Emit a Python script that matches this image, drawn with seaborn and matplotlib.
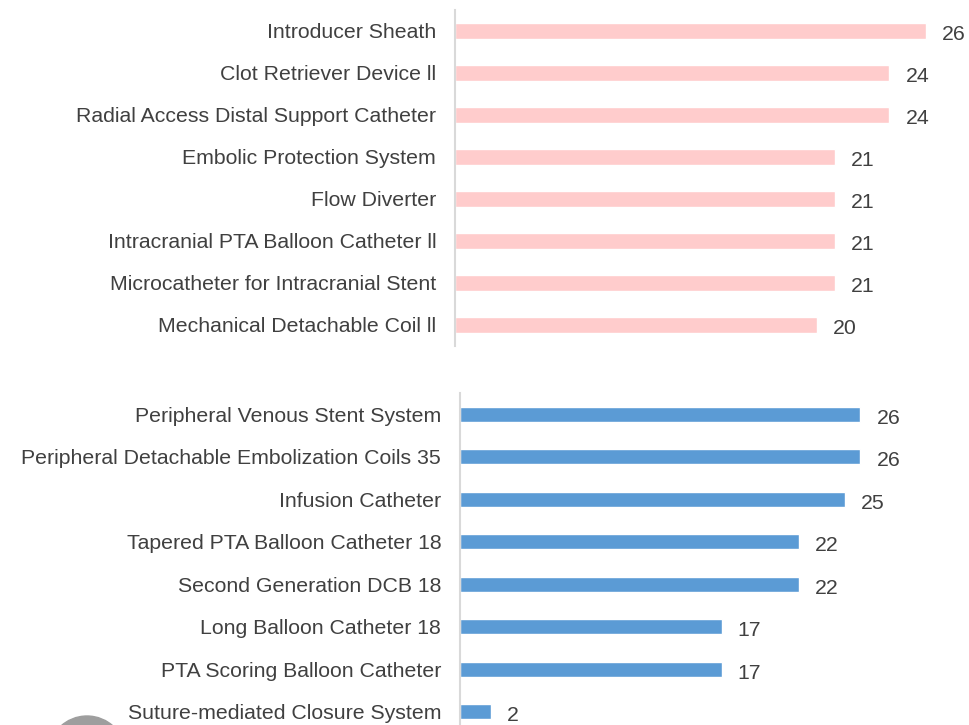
import numpy as np
import pandas as pd
import matplotlib
matplotlib.use('Agg')
import matplotlib.pyplot as plt
import seaborn as sns
from matplotlib.patches import Circle

# --- data ---
top_labels = ['Introducer Sheath', 'Clot Retriever Device ll',
              'Radial Access Distal Support Catheter', 'Embolic Protection System',
              'Flow Diverter', 'Intracranial PTA Balloon Catheter ll',
              'Microcatheter for Intracranial Stent', 'Mechanical Detachable Coil ll']
top_values = [26, 24, 24, 21, 21, 21, 21, 20]

bottom_labels = ['Peripheral Venous Stent System', 'Peripheral Detachable Embolization Coils 35',
                 'Infusion Catheter', 'Tapered PTA Balloon Catheter 18',
                 'Second Generation DCB 18', 'Long Balloon Catheter 18',
                 'PTA Scoring Balloon Catheter', 'Suture-mediated Closure System']
bottom_values = [26, 26, 25, 22, 22, 17, 17, 2]

sns.set_style('white')
plt.rcParams['font.family'] = ['Liberation Sans', 'DejaVu Sans']

W, H = 970, 725
fig = plt.figure(figsize=(W / 100, H / 100), dpi=100)
text_color = '#404040'


def draw_panel(labels, values, color, left, top, row_h, px_per_unit):
    n = len(labels)
    height = n * row_h
    xmax = 30
    ax = fig.add_axes([left / W, (H - top - height) / H, xmax * px_per_unit / W, height / H])
    df = pd.DataFrame({'label': labels, 'value': values})
    sns.barplot(data=df, x='value', y='label', ax=ax, color=color, saturation=1,
                width=0.36, orient='h')
    ax.set_xlim(0, xmax)
    ax.set_ylim(n - 0.5, -0.5)
    ax.set_xlabel('')
    ax.set_ylabel('')
    ax.set_xticks([])
    for side in ['top', 'right', 'bottom']:
        ax.spines[side].set_visible(False)
    ax.spines['left'].set_color('#d9d9d9')
    ax.spines['left'].set_linewidth(1.5)
    ax.tick_params(axis='y', length=0, pad=13.5, labelsize=15.3, labelcolor=text_color)
    ax.patch.set_alpha(0)
    # value labels, sitting a little below the bar centre like the original
    for i, v in enumerate(values):
        ax.annotate(str(v), xy=(v, i), xytext=(16, -4), textcoords='offset pixels',
                    ha='left', va='center', fontsize=15.3, color=text_color)
    return ax


draw_panel(top_labels, top_values, '#FFCCCC', left=455, top=10, row_h=42, px_per_unit=18.1)
draw_panel(bottom_labels, bottom_values, '#5B9BD5', left=460, top=393, row_h=42.5, px_per_unit=15.4)

# partial grey circle in bottom-left corner
fig.add_artist(Circle((0.87, -0.30), 0.39, transform=fig.dpi_scale_trans,
                      color='#9E9E9E', zorder=0))

fig.savefig('out.png', dpi=100, facecolor='white')
